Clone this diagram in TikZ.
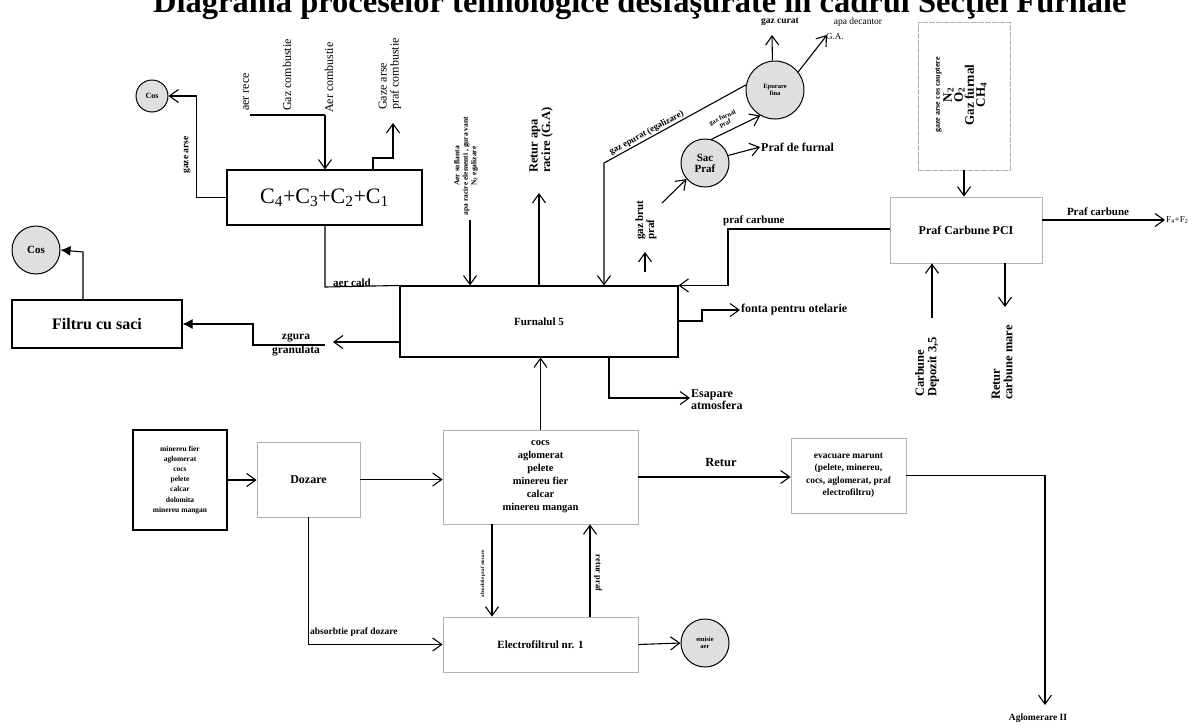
\documentclass[tikz,border=0pt]{standalone}
\usepackage{fontspec}
\setmainfont{Liberation Serif}
\usetikzlibrary{arrows.meta,calc}
\newcommand{\fs}[1]{\fontsize{#1}{#1}\selectfont}
\begin{document}
\begin{tikzpicture}[x=1pt,y=1pt,
  ln/.style={line width=1.1pt},
  arr/.style={ln,-{Straight Barb[length=9pt,width=13pt,line width=1.1pt]}},
  farr/.style={ln,-{Latex[length=10pt,width=10pt]}},
  bbox/.style={draw,line width=1.1pt,inner sep=0pt,align=center,font=\bfseries},
  lbox/.style={draw=gray!60,line width=0.8pt,inner sep=0pt,align=center,font=\bfseries},
  circ/.style={circle,draw,line width=1pt,fill=gray!25,inner sep=0pt,align=center,font=\bfseries},
  lab/.style={font=\bfseries,inner sep=1pt,align=center},
  rlab/.style={font=\fs{12},inner sep=1pt,align=left}
]
\useasboundingbox (0,0) rectangle (1203,-724);
\fill[white] (0,0) rectangle (1203,-724);

% title (cut at top, as in the reference)
\node[anchor=base west,font=\bfseries\fs{32.5},inner sep=0] (title) at (153,-12) {Diagrama proceselor tehnologice desfaşurate în cadrul Secţiei Furnale};

% ---------- nodes ----------
\node[bbox,minimum width=195,minimum height=55,font=\fs{22}] (cbox) at (324.5,-197.5) {C\textsubscript{4}+C\textsubscript{3}+C\textsubscript{2}+C\textsubscript{1}};
\node[bbox,minimum width=278,minimum height=71,font=\bfseries\fs{11}] (furnal) at (539,-321.5) {Furnalul 5};
\node[bbox,minimum width=170,minimum height=48,font=\bfseries\fs{16}] (filtru) at (97,-324) {Filtru cu saci};
\node[lbox,minimum width=152,minimum height=66,font=\bfseries\fs{12}] (pci) at (966,-230) {Praf Carbune PCI};
\node[lbox,minimum width=92,minimum height=148,dashed,dash pattern=on 6pt off 1pt] (topr) at (964,-96) {};
\node[bbox,minimum width=94,minimum height=100,font=\bfseries\fs{7.5}] (minbox) at (180,-480) {minereu fier\\[2.6pt]aglomerat\\[2.6pt]cocs\\[2.6pt]pelete\\[2.6pt]calcar\\[2.6pt]dolomita\\[2.6pt]minereu mangan};
\node[lbox,minimum width=103,minimum height=75,font=\bfseries\fs{12}] (dozare) at (308.5,-479.5) {Dozare};
\node[lbox,minimum width=195,minimum height=94,font=\bfseries\fs{10.5}] (stoc) at (540.5,-477) {cocs\\[2.5pt]aglomerat\\[2.5pt]pelete\\[2.5pt]minereu fier\\[2.5pt]calcar\\[2.5pt]minereu mangan};
\node[lbox,minimum width=115,minimum height=75,font=\bfseries\fs{9.5}] (evac) at (848.5,-475.5) {evacuare marunt\\[3pt](pelete, minereu,\\[3pt]cocs, aglomerat, praf\\[3pt]electrofiltru)};
\node[lbox,minimum width=195,minimum height=55,font=\bfseries\fs{11}] (electro) at (540.5,-644.5) {Electrofiltrul nr. 1};

\node[circ,minimum size=32,font=\bfseries\fs{8}] (cos1) at (152,-96) {Cos};
\node[circ,minimum size=48,font=\bfseries\fs{11}] (cos2) at (36,-250) {Cos};
\node[circ,minimum size=48,font=\bfseries\fs{11}] (sac) at (705,-163) {Sac\\Praf};
\node[circ,minimum size=58,font=\bfseries\fs{6.5}] (epur) at (775,-90) {Epurare\\fina};
\node[circ,minimum size=48,font=\bfseries\fs{6.5}] (emis) at (705,-643) {emisie\\aer};

% ---------- coordinates ----------
\coordinate (arece) at (250,-115);
\coordinate (acj) at (325,-115);
\coordinate (gapc) at (373,-158);
\coordinate (gapt) at (393,-123);
\coordinate (acald) at (325,-287);
\coordinate (asuf) at (470,-220);
\coordinate (retapa) at (539,-193);
\coordinate (gej) at (604,-163);
\coordinate (gbt) at (645,-252);
\coordinate (gbb) at (645,-272);
\coordinate (gbs) at (662,-203);
\coordinate (pdf) at (760,-147);
\coordinate (gct) at (772,-35);
\coordinate (adt) at (827,-35);
\coordinate (pcj) at (728,-229);
\coordinate (f4) at (1165,-220);
\coordinate (cdb) at (932,-318);
\coordinate (rcb) at (1005,-307);
\coordinate (fo1) at (702,-321);
\coordinate (fo2) at (740,-310);
\coordinate (es1) at (609,-398);
\coordinate (es2) at (690,-398);
\coordinate (zg1) at (333,-342);
\coordinate (zg2) at (325,-345);
\coordinate (zg3) at (253,-345);
\coordinate (fc) at (83,-252);
\coordinate (agl) at (1045,-705);
\coordinate (abs) at (492,0);
\coordinate (rpx) at (590,0);

% ---------- connectors ----------
\draw[arr] (cbox.west) -- ++(-30,0) |- (cos1.east);
\draw[ln] (arece) -- (acj);
\draw[arr] (acj) -- (acj |- cbox.north);
\draw[arr] (gapc |- cbox.north) -- (gapc) -| (gapt);
\draw[ln] (acald |- cbox.south) -- (acald) -- (furnal.north west);
\draw[arr] (asuf) -- (asuf |- furnal.north);
\draw[arr] (retapa |- furnal.north) -- (retapa);
\draw[arr] (epur.170) -- (gej) node[pos=0.68,sloped,above,lab,font=\bfseries\fs{9}] {gaz epurat (egalizare)} -- (gej |- furnal.north);
\draw[arr] (gbb) -- (gbt);
\draw[arr] (gbs) -- (sac.221);
\draw[arr] (sac.18) -- (pdf);
\draw[arr] (sac.75) -- (epur.240);
\draw[arr] (epur.95) -- (gct);
\draw[arr] (epur.38) -- (adt);
\draw[arr] (pci.west |- pcj) -- (pcj) |- (furnal.north east);
\draw[arr] (topr.south) -- (topr.south |- pci.north);
\draw[arr] (pci.east |- f4) -- (f4);
\draw[arr] (cdb) -- (cdb |- pci.south);
\draw[arr] (rcb |- pci.south) -- (rcb);
\draw[arr] (furnal.east |- fo1) -- (fo1) |- (fo2);
\draw[arr] (es1 |- furnal.south) -- (es1) -- (es2);
\draw[arr] (furnal.west |- zg1) -- (zg1);
\draw[farr] (zg2) -- (zg3) |- (filtru.east);
\draw[farr] (fc |- filtru.north) -- (fc) -- (cos2.east);
\draw[arr] (minbox.east) -- (minbox.east -| dozare.west);
\draw[arr] (dozare.east) -- (dozare.east -| stoc.west);
\draw[arr] (stoc.north) -- (stoc.north |- furnal.south);
\draw[arr] (stoc.east) -- (stoc.east -| evac.west);
\draw[arr] (evac.east) -| (agl);
\draw[arr] (dozare.south) |- (electro.west);
\draw[arr] (abs |- stoc.south) -- (abs |- electro.north);
\draw[arr] (rpx |- electro.north) -- (rpx |- stoc.south);
\draw[arr] (electro.east) -- (emis.west);

% ---------- labels ----------
\node[lab,rotate=90,font=\bfseries\fs{9.5}] (lga) at (187,-155) {gaze arse};
\node[rlab,rotate=90,anchor=west] (lar) at (246,-112) {aer rece};
\node[rlab,rotate=90,anchor=west] (lgc) at (287,-112) {Gaz combustie};
\node[rlab,rotate=90,anchor=west] (lac) at (329,-114) {Aer combustie};
\node[rlab,rotate=90,anchor=west] (lgp) at (390,-111) {Gaze arse\\praf combustie};
\node[lab,rotate=90,font=\bfseries\fs{7.5}] (las) at (466,-166) {Aer suflanta\\[1pt]apa racire elementi , gura vant\\[1pt]N\textsubscript{2} egalizare};
\node[lab,rotate=90,anchor=west,align=left,font=\bfseries\fs{12.5}] (lra) at (541,-174) {Retur apa\\racire (G.A)};
\node[lab,rotate=90,anchor=west,align=left,font=\bfseries\fs{11}] (lgb) at (646,-241) {gaz brut\\praf};
\node[lab,rotate=25,font=\bfseries\fs{6.5}] (lgf) at (724,-121) {gaz furnal\\praf};
\node[lab,anchor=west,font=\bfseries\fs{12}] (lpf) at (pdf) {Praf de furnal};
\node[lab,font=\bfseries\fs{9.5}] (lgcu) at (780,-22) {gaz curat};
\node[lab,font=\fs{9.5}] (lad) at (858,-22) {apa decantor};
\node[lab,anchor=west,font=\fs{9}] (lga2) at (825,-37) {G.A.};
\node[lab,anchor=south west,font=\bfseries\fs{11}] (lpc) at (722,-227) {praf carbune};
\node[lab,rotate=90] (ltr) at (961,-95) {{\fs{8}gaze arse cos cauptere}\\[0pt]{\fs{13}N\textsubscript{2}}\\[-1pt]{\fs{13}O\textsubscript{2}}\\[-1pt]{\fs{13}Gaz furnal}\\[-1pt]{\fs{13}CH\textsubscript{4}}};
\node[lab,font=\bfseries\fs{11}] (lpc2) at (1098,-212) {Praf carbune};
\node[lab,anchor=west,font=\fs{9}] (lf4) at (f4) {F\textsubscript{4}+F\textsubscript{2}};
\node[lab,rotate=90,anchor=west,align=left,font=\bfseries\fs{12.5}] (lcd) at (927,-398) {Carbune\\Depozit 3,5};
\node[lab,rotate=90,anchor=west,align=left,font=\bfseries\fs{12.5}] (lrc) at (1002,-401) {Retur\\carbune mare};
\node[lab,anchor=west,font=\bfseries\fs{12}] (lfo) at (fo2) {fonta pentru otelarie};
\node[lab,anchor=west,align=left,font=\bfseries\fs{12}] (les) at (690,-400) {Esapare\\atmosfera};
\node[lab,font=\bfseries\fs{11.5}] (lzg) at (296,-345) {zgura\\[2pt]granulata};
\node[lab,anchor=south west,font=\bfseries\fs{11}] (lacd) at (332,-288) {aer cald};
\node[lab,font=\bfseries\fs{12.5}] (lret) at (721,-462) {Retur};
\node[lab,font=\bfseries\fs{9.5}] (lagl) at (1038,-718) {Aglomerare II};
\node[lab,anchor=south west,font=\bfseries\fs{9.5}] (labd) at (309,-638) {absorbtie praf dozare};
\node[lab,rotate=90,font=\bfseries\fs{5}] (labs) at (483,-574) {absorbtie praf stocare};
\node[lab,rotate=-90,font=\bfseries\fs{8.5}] (lrp) at (598,-573) {retur praf};
\end{tikzpicture}
\end{document}
